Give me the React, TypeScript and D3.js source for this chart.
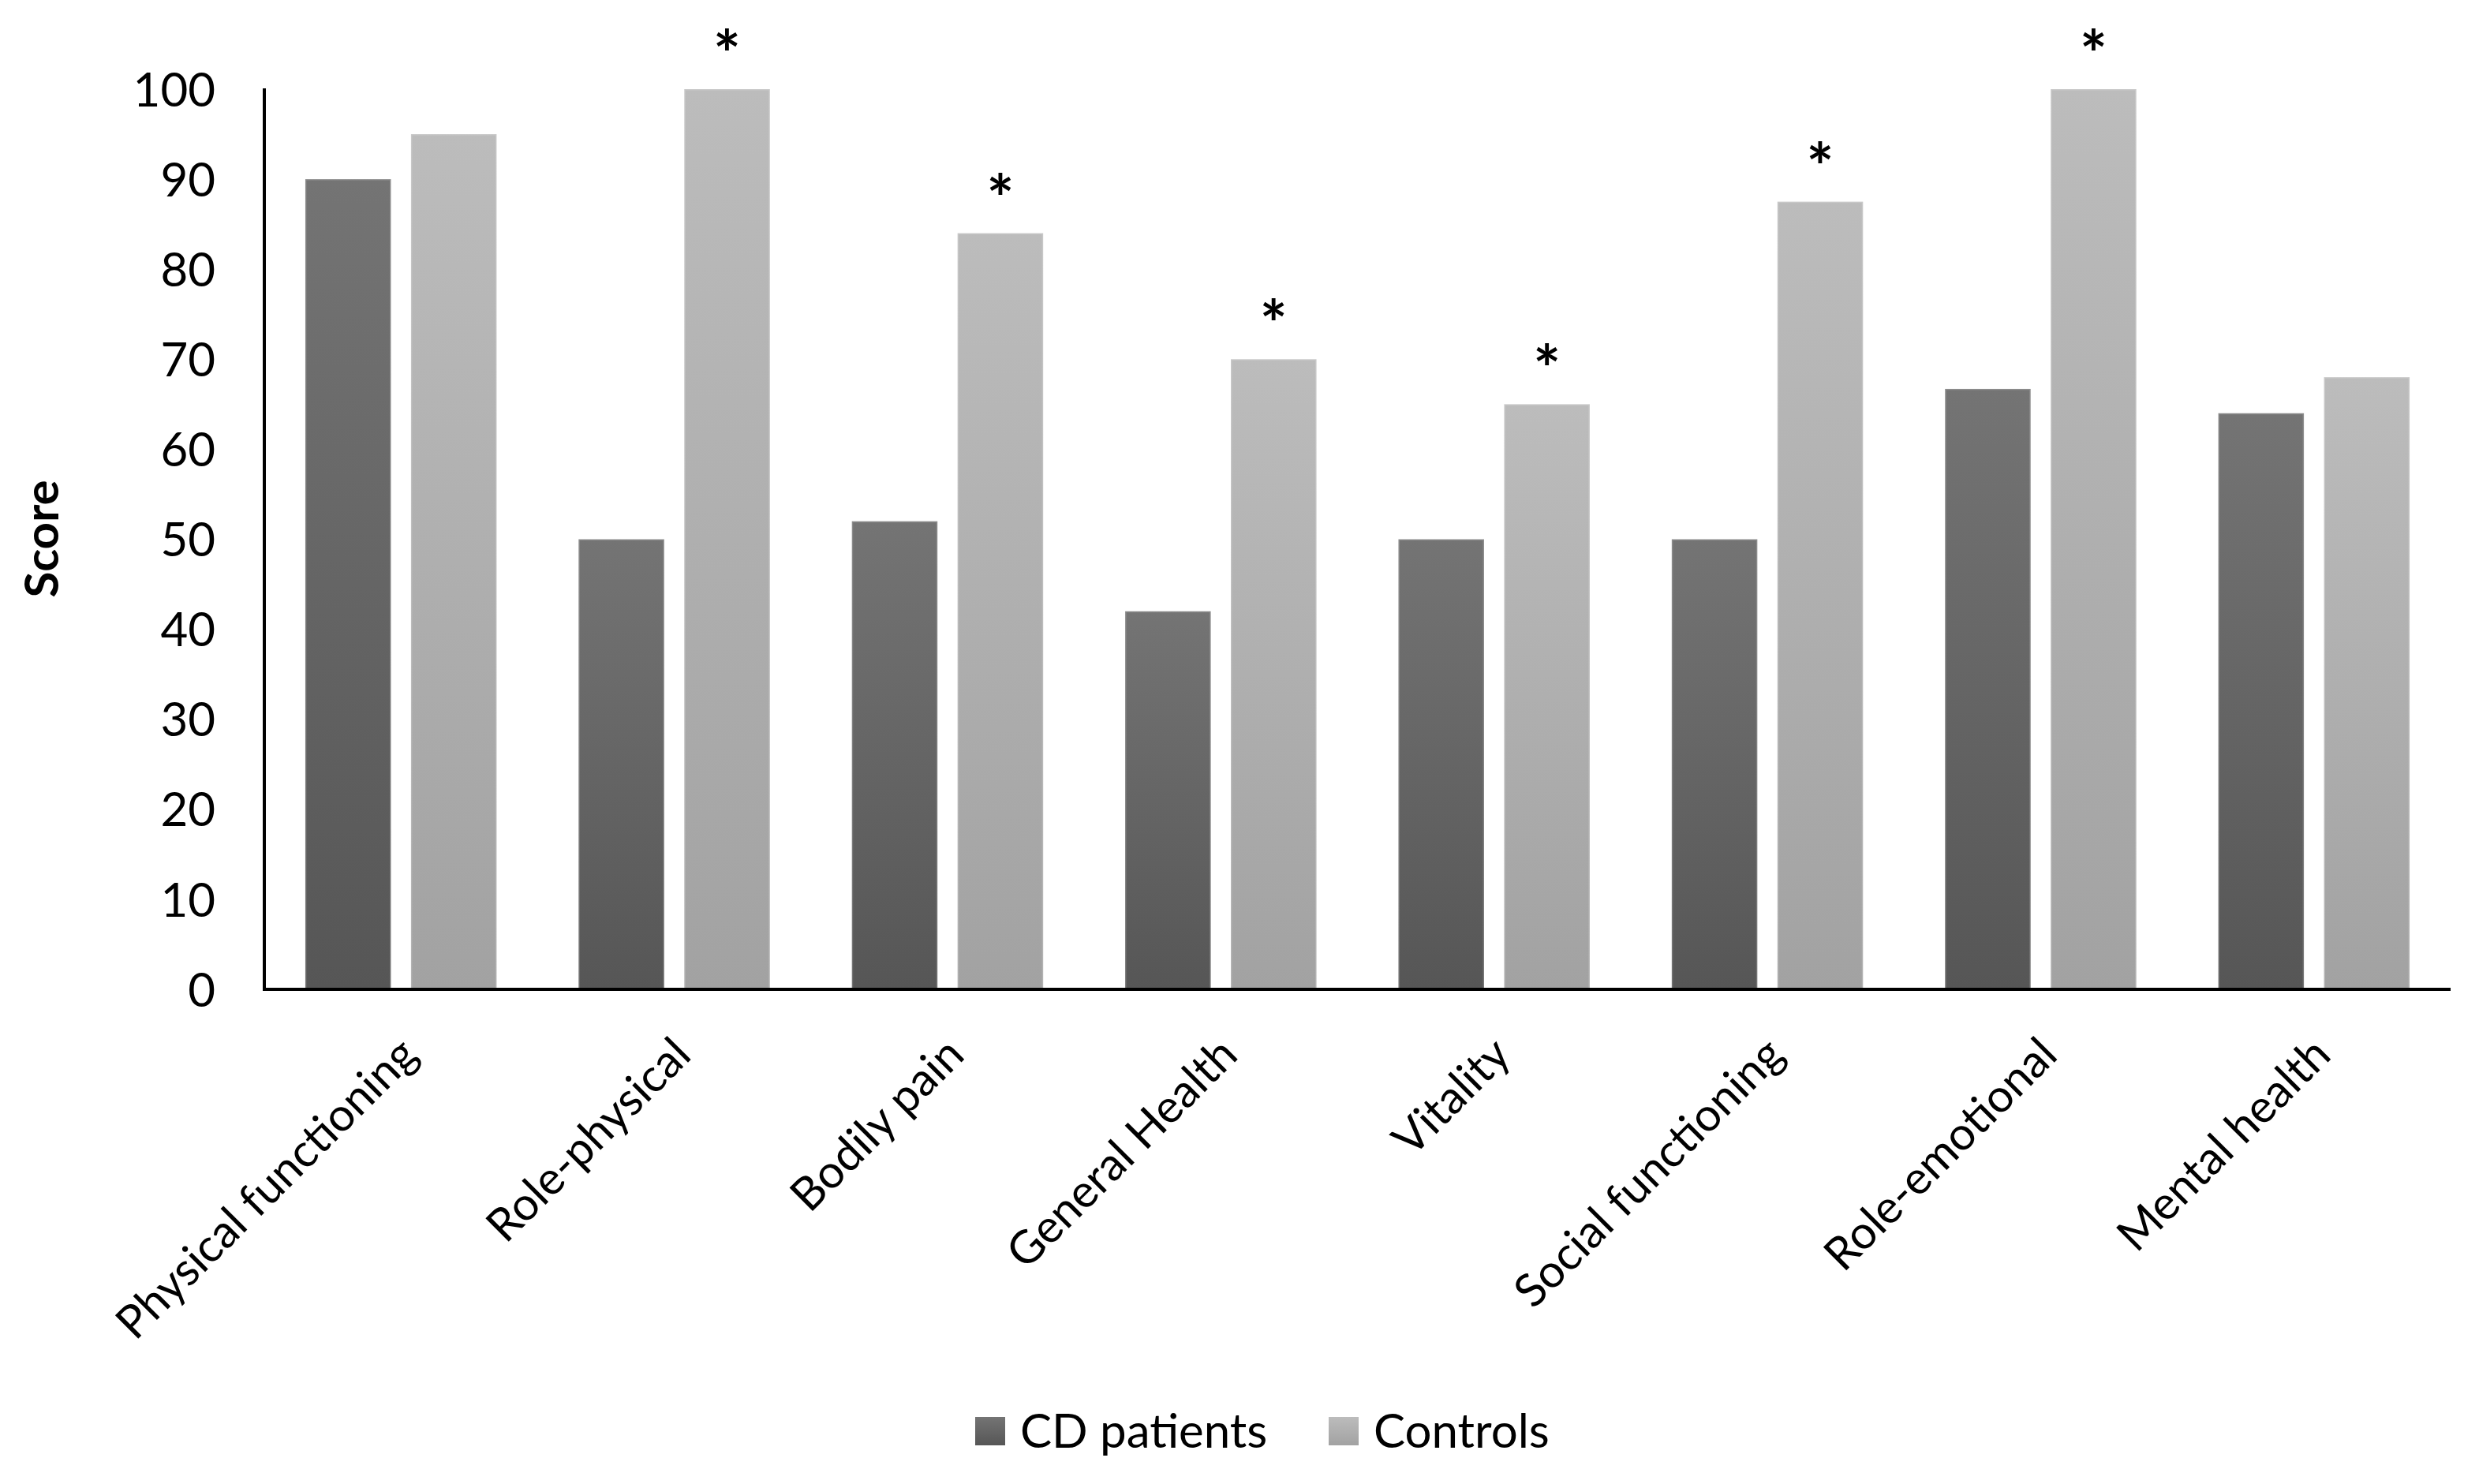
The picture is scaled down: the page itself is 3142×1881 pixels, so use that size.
import { useMemo } from "react";
import * as d3 from "d3";

const WIDTH = 3142;
const HEIGHT = 1881;
const MARGIN = { top: 113, right: 36, bottom: 627, left: 335 };

const categories = [
  "Physical functioning",
  "Role-physical",
  "Bodily pain",
  "General Health",
  "Vitality",
  "Social functioning",
  "Role-emotional",
  "Mental health",
];
const seriesNames = ["CD patients", "Controls"];
const cdPatients = [90, 50, 52, 42, 50, 50, 66.7, 64];
const controls = [95, 100, 84, 70, 65, 87.5, 100, 68];
const significant = [false, true, true, true, true, true, true, false];
const yTicks = [0, 10, 20, 30, 40, 50, 60, 70, 80, 90, 100];

const FONT = "Lato, 'Open Sans', sans-serif";
const GRADIENTS: Record<string, [string, string]> = {
  "CD patients": ["#747474", "#565656"],
  Controls: ["#bcbcbc", "#a2a2a2"],
};

export default function App() {
  const boundsWidth = WIDTH - MARGIN.left - MARGIN.right;
  const boundsHeight = HEIGHT - MARGIN.top - MARGIN.bottom;

  const yScale = useMemo(
    () => d3.scaleLinear().domain([0, 100]).range([boundsHeight, 0]),
    [boundsHeight]
  );
  const x0 = useMemo(
    () =>
      d3
        .scaleBand()
        .domain(categories)
        .range([0, boundsWidth])
        .paddingInner(0.3)
        .paddingOuter(0.15),
    [boundsWidth]
  );
  const x1 = d3
    .scaleBand()
    .domain(seriesNames)
    .range([0, x0.bandwidth()])
    .paddingInner(0.19);

  const rows = categories.map((c, i) => ({
    category: c,
    values: [
      { key: seriesNames[0], value: cdPatients[i] },
      { key: seriesNames[1], value: controls[i] },
    ],
    star: significant[i],
  }));

  const legendItems = [
    { key: seriesNames[0], x: 1236 },
    { key: seriesNames[1], x: 1684 },
  ];

  return (
    <div style={{ position: "absolute", left: 0, top: 0 }}>
      <svg width={WIDTH} height={HEIGHT} style={{ display: "block", background: "#fff" }}>
        <defs>
          {seriesNames.map((s, i) => (
            <linearGradient key={s} id={`grad${i}`} x1="0" y1="0" x2="0" y2="1">
              <stop offset="0%" stopColor={GRADIENTS[s][0]} />
              <stop offset="100%" stopColor={GRADIENTS[s][1]} />
            </linearGradient>
          ))}
        </defs>
        <g transform={`translate(${MARGIN.left},${MARGIN.top})`} fontFamily={FONT}>
          {/* bars */}
          {rows.map((r) => (
            <g key={r.category} transform={`translate(${x0(r.category)},0)`}>
              {r.values.map((v, j) => (
                <rect
                  key={v.key}
                  x={x1(v.key)}
                  y={yScale(v.value)}
                  width={x1.bandwidth()}
                  height={boundsHeight - yScale(v.value)}
                  fill={`url(#grad${j})`}
                  stroke="#ffffff"
                  strokeOpacity={0.18}
                  strokeWidth={3}
                />
              ))}
              {r.star && (
                <text
                  x={(x1(seriesNames[1]) ?? 0) + x1.bandwidth() / 2}
                  y={yScale(r.values[1].value) - 14}
                  textAnchor="middle"
                  fontSize={82}
                  fontWeight="bold"
                  fill="#000"
                >
                  *
                </text>
              )}
            </g>
          ))}

          {/* y axis */}
          <line x1={0} x2={0} y1={-1} y2={boundsHeight + 2} stroke="#000" strokeWidth={4} />
          {yTicks.map((t) => (
            <text
              key={t}
              x={-62}
              y={yScale(t)}
              dy="0.36em"
              textAnchor="end"
              fontSize={60}
              fill="#000"
            >
              {t}
            </text>
          ))}
          <text
            transform={`translate(${52 - MARGIN.left},${683 - MARGIN.top}) rotate(-90)`}
            textAnchor="middle"
            dy="0.36em"
            fontSize={60}
            fontWeight="bold"
            fill="#000"
          >
            Score
          </text>

          {/* x axis */}
          <line x1={-2} x2={boundsWidth} y1={boundsHeight} y2={boundsHeight} stroke="#000" strokeWidth={4} />
          {categories.map((c) => (
            <text
              key={c}
              transform={`translate(${(x0(c) ?? 0) + x0.bandwidth() / 2 + 24},${boundsHeight + 86}) rotate(-45)`}
              textAnchor="end"
              fontSize={58}
              fill="#000"
            >
              {c}
            </text>
          ))}
        </g>

        {/* legend */}
        <g fontFamily={FONT}>
          {legendItems.map((l, i) => (
            <g key={l.key} transform={`translate(${l.x},1796)`}>
              <rect width={38} height={36} fill={`url(#grad${i})`} />
              <text x={57} y={39} fontSize={60} fill="#000">
                {l.key}
              </text>
            </g>
          ))}
        </g>
      </svg>
    </div>
  );
}
